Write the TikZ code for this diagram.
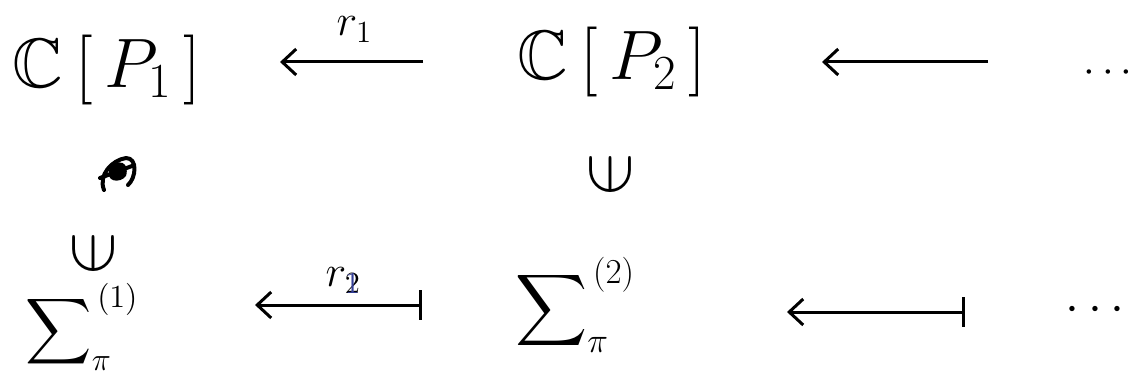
\RequirePackage{fix-cm}
\documentclass[tikz,border=0pt]{standalone}
\usepackage{amssymb}
\usepackage{graphicx}
\usepackage{xcolor}
\usepackage{tikz}
\usetikzlibrary{arrows.meta, positioning}

\definecolor{inkblue}{RGB}{52,62,150}

\begin{document}
\begin{tikzpicture}[
  x=0.5pt, y=-0.5pt,
  ring/.style={inner sep=0pt, font=\fontsize{35}{40}\selectfont},
  sumbox/.style={inner sep=0pt, font=\fontsize{25}{30}\selectfont},
  elem/.style={inner sep=0pt, font=\fontsize{36}{40}\selectfont},
  etc/.style={inner sep=0pt, font=\fontsize{25}{30}\selectfont},
  lbl/.style={inner sep=0pt, font=\fontsize{22}{26}\selectfont},
  arrow/.style={line width=1.5pt, -{Straight Barb[length=7pt,width=13pt]}},
  maps/.style={line width=1.5pt, {Bar[width=15pt]}-{Straight Barb[length=7pt,width=13pt]}},
  scrib/.style={line width=2pt, line cap=round, line join=round}
]
\useasboundingbox (0,0) rectangle (1133,379);

% top row
\node[ring] (cp1) at (107,70) {$\mathbb{C}\,[\,P_1\,]$};
\node[ring] (cp2) at (612,62) {$\mathbb{C}\,[\,P_2\,]$};
\node[etc, font=\fontsize{21}{26}\selectfont] (dt) at (1108,73) {$\cdots$};

% bottom row
\node[sumbox, font=\fontsize{23}{28}\selectfont] (s1) at (82,327) {$\displaystyle\sum\nolimits^{\,(1)}_{\pi}$};
\node[sumbox] (s2) at (575,305) {$\displaystyle\sum\nolimits^{\,(2)}_{\pi}$};
\node[etc] (db) at (1095,310) {$\cdots$};

% membership signs
\node[elem] (e1) at (93,253) {\rotatebox[origin=c]{90}{$\in$}};
\node[elem] (e2) at (610,174) {\rotatebox[origin=c]{90}{$\in$}};

% crossed out mark
\draw[scrib] (104,190) .. controls (98,175) and (112,160) .. (126,158) .. controls (138,158) and (136,178) .. (128,185);
\fill (110,168) .. controls (118,158) and (130,162) .. (126,176) .. controls (120,184) and (104,182) .. (110,168);
\draw[scrib] (100,178) -- (132,166);

% maps
\draw[arrow, shorten <=94.5pt, shorten >=86.5pt] (cp2.center) -- node[lbl, pos=.51, above=9pt] (r1) {$r_1$} (cp1.center |- cp2.center);
\draw[arrow, shorten <=60pt, shorten >=105pt] (dt.center |- cp2.center) -- (cp2.center);
\draw[maps, shorten <=76.5pt, shorten >=86.5pt] (s2.center) -- node[lbl, pos=.47, above=5pt] (r2) {$r_{\rlap{$\scriptstyle 2$}\textcolor{inkblue}{1}}$} (s1.center |- s2.center);
\draw[maps, shorten <=65pt, shorten >=106pt] ([yshift=-1pt]db.center) -- ([yshift=-1pt]s2.center |- db.center);

\end{tikzpicture}
\end{document}
